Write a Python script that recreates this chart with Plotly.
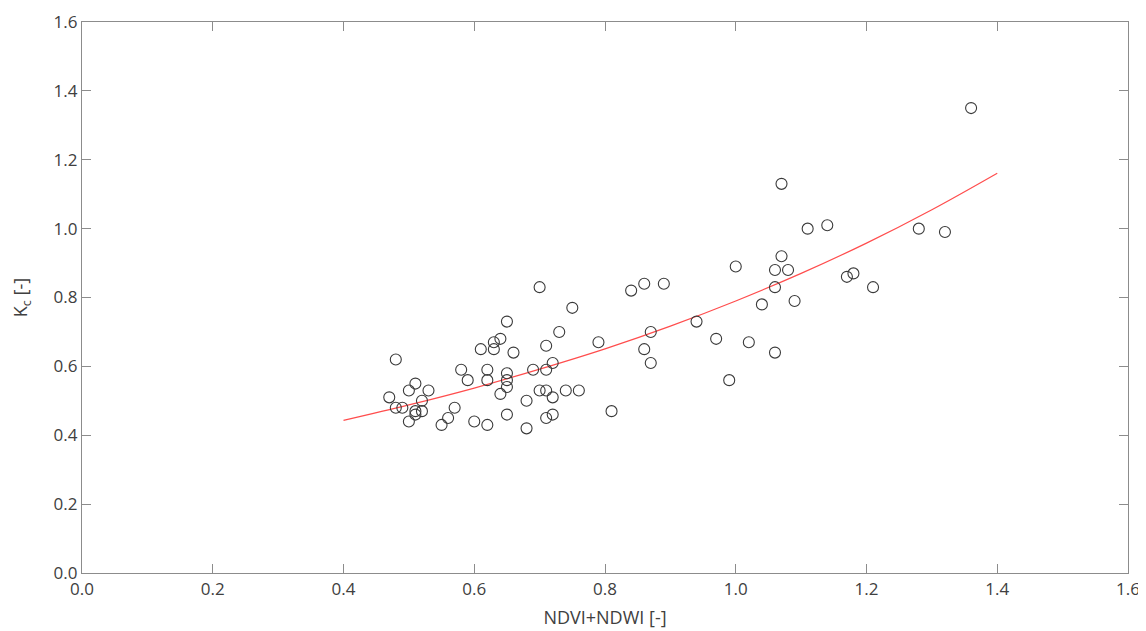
import plotly.graph_objects as go

ndvi_ndwi = [0.47, 0.48, 0.48, 0.49, 0.50, 0.50, 0.51, 0.51, 0.51, 0.52, 0.52, 0.53,
             0.55, 0.56, 0.57, 0.58, 0.59, 0.60, 0.61, 0.62, 0.62, 0.62, 0.63, 0.63,
             0.64, 0.64, 0.65, 0.65, 0.65, 0.65, 0.65, 0.66, 0.68, 0.68, 0.69, 0.70,
             0.70, 0.71, 0.71, 0.71, 0.71, 0.72, 0.72, 0.72, 0.73, 0.74, 0.75, 0.76,
             0.79, 0.81, 0.84, 0.86, 0.86, 0.87, 0.87, 0.89, 0.94, 0.97, 0.99, 1.00,
             1.02, 1.04, 1.06, 1.06, 1.06, 1.07, 1.07, 1.08, 1.09, 1.11, 1.14, 1.17,
             1.18, 1.21, 1.28, 1.32, 1.36]
kc = [0.51, 0.62, 0.48, 0.48, 0.53, 0.44, 0.55, 0.47, 0.46, 0.50, 0.47, 0.53,
      0.43, 0.45, 0.48, 0.59, 0.56, 0.44, 0.65, 0.59, 0.56, 0.43, 0.67, 0.65,
      0.68, 0.52, 0.73, 0.58, 0.56, 0.54, 0.46, 0.64, 0.50, 0.42, 0.59, 0.83,
      0.53, 0.66, 0.59, 0.53, 0.45, 0.61, 0.51, 0.46, 0.70, 0.53, 0.77, 0.53,
      0.67, 0.47, 0.82, 0.84, 0.65, 0.70, 0.61, 0.84, 0.73, 0.68, 0.56, 0.89,
      0.67, 0.78, 0.88, 0.83, 0.64, 1.13, 0.92, 0.88, 0.79, 1.00, 1.01, 0.86,
      0.87, 0.83, 1.00, 0.99, 1.35]

fit_x = [0.4, 0.5, 0.6, 0.7, 0.8, 0.9, 1.0, 1.1, 1.2, 1.3, 1.4]
fit_y = [0.443, 0.488, 0.537, 0.592, 0.651, 0.717, 0.790, 0.870, 0.958, 1.055, 1.161]

tick_vals = [0.0, 0.2, 0.4, 0.6, 0.8, 1.0, 1.2, 1.4, 1.6]
tick_text = ["0.0", "0.2", "0.4", "0.6", "0.8", "1.0", "1.2", "1.4", "1.6"]

fig = go.Figure()
fig.add_trace(go.Scatter(
    x=fit_x, y=fit_y, mode="lines", line=dict(color="#ff4d4d", width=1.2, shape="spline"),
    showlegend=False, hoverinfo="skip"))
fig.add_trace(go.Scatter(
    x=ndvi_ndwi, y=kc, mode="markers",
    marker=dict(symbol="circle-open", size=11, color="#3a3a3a", line=dict(width=1.1)),
    showlegend=False))

axis_common = dict(
    range=[0, 1.6], tickvals=tick_vals, ticktext=tick_text,
    showline=True, linecolor="#8c8c8c", linewidth=1.2, mirror="ticks",
    ticks="inside", ticklen=9, tickcolor="#8c8c8c", tickwidth=1,
    showgrid=False, zeroline=False, automargin=False,
    tickfont=dict(family="Open Sans", size=17, color="#404040"),
)

# the page body adds an 8px offset, so the figure is sized to fit the window
fig.update_layout(
    width=1138, height=623,
    margin=dict(l=74, r=18, t=14, b=58),
    plot_bgcolor="white", paper_bgcolor="white",
    xaxis=dict(**axis_common,
               title=dict(text="NDVI+NDWI [-]", standoff=12,
                          font=dict(family="Open Sans", size=18, color="#404040"))),
    yaxis=dict(**axis_common,
               title=dict(text="K<sub>c</sub> [-]", standoff=22,
                          font=dict(family="Open Sans", size=18, color="#404040"))),
)

fig.write_html("out.html")
